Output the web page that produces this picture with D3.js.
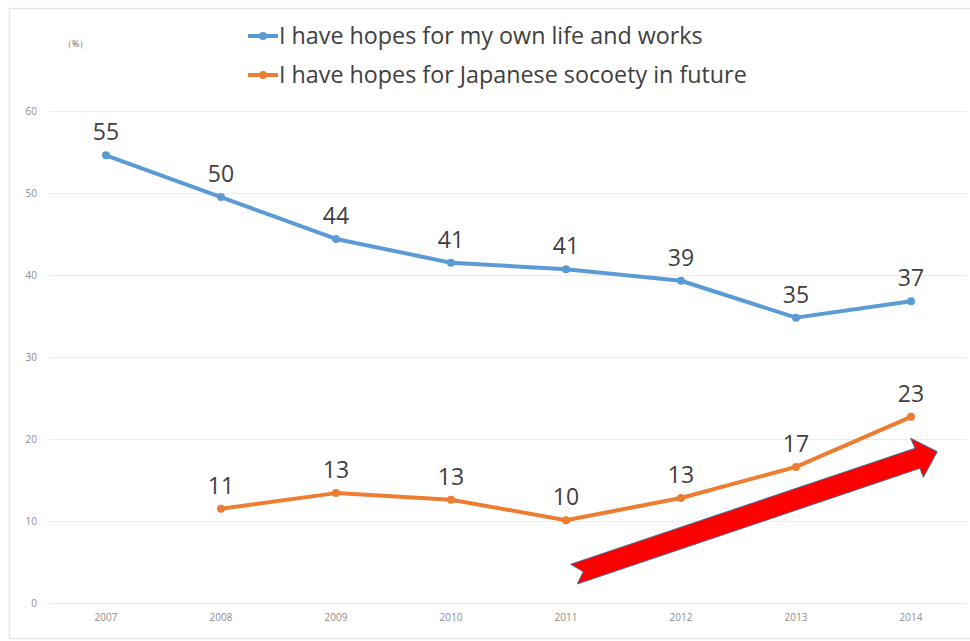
<!DOCTYPE html>
<html><head><meta charset="utf-8">
<script src="https://cdn.jsdelivr.net/npm/d3@7"></script>
<style>body{margin:0;background:#fff;}svg{display:block;}</style>
</head><body>
<svg id="c" width="970" height="641"></svg>
<script>
const years = ["2007","2008","2009","2010","2011","2012","2013","2014"];
const ownLife = [54.6, 49.5, 44.4, 41.5, 40.7, 39.3, 34.8, 36.8];
const ownLifeLabels = ["55","50","44","41","41","39","35","37"];
const society = [null, 11.5, 13.4, 12.6, 10.1, 12.8, 16.6, 22.7];
const societyLabels = [null, "11","13","13","10","13","17","23"];
const yTicks = [0,10,20,30,40,50,60];
const seriesNames = ["I have hopes for my own life and works","I have hopes for Japanese socoety in future"];
const colors = ["#5B9BD5","#ED7D31"];

const svg = d3.select("#c");
const font = "'Open Sans', 'Noto Sans', sans-serif";

// frame
svg.append("rect").attr("x",9.5).attr("y",8.5).attr("width",975).attr("height",630)
  .attr("fill","none").attr("stroke","#e6e6e6").attr("stroke-width",1.5);

const x = d3.scaleBand().domain(years).range([48.5, 968.5]);
const y = d3.scaleLinear().domain([0,60]).range([603,111]);

// grid
svg.append("g").selectAll("line").data(yTicks).join("line")
  .attr("x1",50).attr("x2",966).attr("y1",d=>y(d)+0.5).attr("y2",d=>y(d)+0.5)
  .attr("stroke","#ececec").attr("stroke-width",1);

// y axis labels
const yAxis = d3.axisLeft(y).tickValues(yTicks).tickSize(0).tickPadding(0);
const gy = svg.append("g").attr("transform","translate(37,0)").call(yAxis);
gy.select(".domain").remove();
gy.selectAll("text").attr("font-family",font).attr("font-size",10).attr("fill","#8c8c8c");

// x axis labels
const xAxis = d3.axisBottom(x).tickSize(0).tickPadding(0);
const gx = svg.append("g").attr("transform","translate(0,618)").call(xAxis);
gx.select(".domain").remove();
gx.selectAll("text").attr("font-family",font).attr("font-size",10).attr("fill","#8c8c8c").attr("dy","0.32em");

// unit
svg.append("text").attr("x",63).attr("y",47).attr("font-family",font).attr("font-size",9)
  .attr("fill","#666").text("（%）");

const cx = d => x(d) + x.bandwidth()/2;
const seriesData = [
  years.map((yr,i)=>({yr, v:ownLife[i], lab:ownLifeLabels[i]})),
  years.map((yr,i)=>({yr, v:society[i], lab:societyLabels[i]})).filter(d=>d.v!==null)
];
const line = d3.line().x(d=>cx(d.yr)).y(d=>y(d.v));

seriesData.forEach((data,si)=>{
  const g = svg.append("g");
  g.append("path").datum(data).attr("d",line).attr("fill","none")
    .attr("stroke",colors[si]).attr("stroke-width",4).attr("stroke-linecap","round")
    .attr("stroke-linejoin","round");
  g.selectAll("circle").data(data).join("circle")
    .attr("cx",d=>cx(d.yr)).attr("cy",d=>y(d.v)).attr("r",4).attr("fill",colors[si]);
  g.selectAll("text").data(data).join("text")
    .attr("x",d=>cx(d.yr)).attr("y",d=>y(d.v)-23).attr("dy","0.35em")
    .attr("text-anchor","middle").attr("font-family",font).attr("font-size",23)
    .attr("fill","#404040").text(d=>d.lab);
});

// legend
const leg = svg.append("g");
seriesNames.forEach((name,i)=>{
  const ly = 36 + i*39;
  leg.append("line").attr("x1",248).attr("x2",278).attr("y1",ly).attr("y2",ly)
    .attr("stroke",colors[i]).attr("stroke-width",4);
  leg.append("circle").attr("cx",263).attr("cy",ly).attr("r",4).attr("fill",colors[i]);
  leg.append("text").attr("x",279).attr("y",ly).attr("dy","0.35em")
    .attr("font-family",font).attr("font-size",23.3).attr("fill","#404040").text(name);
});

// red arrow annotation
const arrowPts = [[570.7,564.3],[915,448.3],[910.7,438.3],[937.3,451.7],[923.3,477.3],[920,468.3],[577.3,584],[583.3,571.7]];
svg.append("polygon").attr("points",arrowPts.map(p=>p.join(",")).join(" "))
  .attr("fill","#ff0000").attr("stroke","#41719C").attr("stroke-width",1);
</script>
</body></html>
